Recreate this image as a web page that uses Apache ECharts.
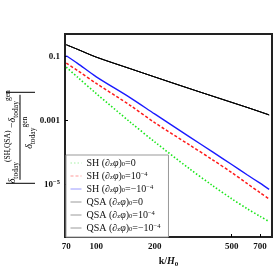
<!DOCTYPE html>
<html><head><meta charset="utf-8">
<script src="https://cdn.jsdelivr.net/npm/echarts@6/dist/echarts.min.js"></script>
<style>html,body{margin:0;padding:0;background:#fff}#c{width:273px;height:273px}</style>
</head><body><div id="c"></div>
<script>
// k/H0 sample points
const kValues = [70, 80, 100, 150, 200, 300, 400, 500, 600, 700, 780];
// SH (dz phi)0 = 0  (green dotted)
const sh0 = [0.0468, 0.0228, 0.00697, 8.81e-4, 2.15e-4, 3.21e-5, 9.0e-6, 3.54e-6, 1.74e-6, 1.0e-6, 6.84e-7];
// SH (dz phi)0 = 1e-4  (red dashed)
const shPlus = [0.0626, 0.0368, 0.0145, 0.00295, 8.6e-4, 1.78e-4, 5.8e-5, 2.34e-5, 1.07e-5, 5.5e-6, 3.47e-6];
// SH (dz phi)0 = -1e-4  (blue)
const shMinus = [0.107, 0.0618, 0.0234, 0.00514, 0.00161, 3.2e-4, 1.02e-4, 4.19e-5, 2.0e-5, 1.09e-5, 7.0e-6];
// QSA curves (all overlap, black)
const qsa0 = [0.236, 0.170, 0.0966, 0.0419, 0.0232, 0.0102, 0.00576, 0.0037, 0.00258, 0.00188, 0.0015];
const qsaPlus = [0.236, 0.170, 0.0966, 0.0419, 0.0232, 0.0102, 0.00576, 0.0037, 0.00258, 0.00188, 0.0015];
const qsaMinus = [0.236, 0.170, 0.0966, 0.0419, 0.0232, 0.0102, 0.00576, 0.0037, 0.00258, 0.00188, 0.0015];

const xTicks = [70, 100, 200, 500, 700];
const yTicks = [0.1, 0.001, 1e-5];

const seriesNames = [
  'SH (∂zφ)0=0', 'SH (∂zφ)0=10^-4', 'SH (∂zφ)0=−10^-4',
  'QSA (∂zφ)0=0', 'QSA (∂zφ)0=10^-4', 'QSA (∂zφ)0=−10^-4'
];
const seriesData = [sh0, shPlus, shMinus, qsa0, qsaPlus, qsaMinus];

const FONT = 'Liberation Serif';

function pairs(arr) { return kValues.map((k, i) => [k, arr[i]]); }

function legendRich(name) {
  const prefix = name.split(' ')[0];
  const val = name.split('=')[1];
  let v;
  if (val === '0') v = '{t|=0}';
  else if (val.startsWith('−')) v = '{t|=−10}{p|−4}';
  else v = '{t|=10}{p|−4}';
  return '{t|' + prefix + ' (}{i|∂}{s|z}{i|φ}{t|)}{s|0}' + v;
}

const styles = [
  { color: '#19e619', type: [1.5, 2], width: 1.6 },
  { color: '#ff1a1a', type: [3, 2], width: 1.5 },
  { color: '#1a1aff', type: 'solid', width: 1.4 },
  { color: '#000000', type: 'solid', width: 0.9 },
  { color: '#000000', type: 'solid', width: 0.9 },
  { color: '#000000', type: 'solid', width: 0.9 }
];
const legendLine = [
  { color: '#a6f0a6', type: [1.5, 2], width: 1 },
  { color: '#ff9a9a', type: [3, 2], width: 1 },
  { color: '#9a9aff', type: 'solid', width: 1 },
  { color: '#9a9a9a', type: 'solid', width: 1 },
  { color: '#9a9a9a', type: 'solid', width: 1 },
  { color: '#9a9a9a', type: 'solid', width: 1 }
];

const chart = echarts.init(document.getElementById('c'), null, { renderer: 'canvas' });

const mainRich = {
  m: { fontFamily: FONT, fontSize: 10, color: '#000', lineHeight: 16 },
  mi: { fontFamily: FONT, fontSize: 10, color: '#000', fontStyle: 'italic', lineHeight: 16 },
  sb: { fontFamily: FONT, fontSize: 7.5, color: '#000', verticalAlign: 'bottom' },
  sp: { fontFamily: FONT, fontSize: 7.5, color: '#000', verticalAlign: 'top' }
};

chart.setOption({
  animation: false,
  backgroundColor: '#fff',
  grid: { left: 65, top: 34, width: 207, height: 206, show: true, borderColor: '#222', borderWidth: 2, backgroundColor: 'transparent' },
  xAxis: {
    type: 'log', logBase: 10, min: 68.93, max: 807,
    axisLine: { show: false },
    splitLine: { show: false },
    minorTick: { show: false },
    axisTick: { show: true, inside: true, length: 3, lineStyle: { color: '#000', width: 1 }, customValues: xTicks },
    axisLabel: { customValues: xTicks, margin: 5, fontFamily: FONT, fontWeight: 'bold', fontSize: 9, color: '#111',
      formatter: v => String(Math.round(v)) },
    name: '{b|k/}{bi|H}{bs|0}',
    nameLocation: 'middle', nameGap: 18,
    nameTextStyle: {
      rich: {
        b: { fontFamily: FONT, fontWeight: 'bold', fontSize: 10, color: '#111', lineHeight: 13 },
        bi: { fontFamily: FONT, fontWeight: 'bold', fontStyle: 'italic', fontSize: 10, color: '#111', lineHeight: 13 },
        bs: { fontFamily: FONT, fontWeight: 'bold', fontSize: 7, color: '#111', verticalAlign: 'bottom' }
      }
    }
  },
  yAxis: {
    type: 'log', logBase: 10, min: 2.25e-7, max: 0.513,
    axisLine: { show: false },
    splitLine: { show: false },
    axisTick: { show: true, inside: true, length: 3, lineStyle: { color: '#000', width: 1 }, customValues: yTicks },
    axisLabel: { customValues: yTicks, margin: 5, fontFamily: FONT, fontWeight: 'bold', fontSize: 9, color: '#111',
      formatter: v => {
        const e = Math.round(Math.log10(v));
        if (e === -1) return '{n|0.1}';
        if (e === -3) return '{n|0.001}';
        return '{n|10}{p|−' + (-e) + '}';
      },
      rich: {
        n: { fontFamily: FONT, fontWeight: 'bold', fontSize: 9, color: '#111', lineHeight: 12 },
        p: { fontFamily: FONT, fontWeight: 'bold', fontSize: 6.5, color: '#111', verticalAlign: 'top' }
      }
    }
  },
  legend: {
    orient: 'vertical', left: 66, top: 155,
    padding: [3, 8, 4, 4],
    itemWidth: 11, itemHeight: 10, itemGap: 3,
    backgroundColor: '#fff', borderColor: '#999', borderWidth: 1,
    data: seriesNames.map((n, i) => ({ name: n, lineStyle: legendLine[i], itemStyle: { opacity: 0 } })),
    formatter: legendRich,
    textStyle: {
      rich: {
        t: { fontFamily: FONT, fontSize: 10, color: '#111', lineHeight: 10 },
        i: { fontFamily: FONT, fontSize: 10, color: '#111', fontStyle: 'italic', lineHeight: 10 },
        s: { fontFamily: FONT, fontSize: 6.5, color: '#111', verticalAlign: 'bottom' },
        p: { fontFamily: FONT, fontSize: 6.5, color: '#111', verticalAlign: 'top' }
      }
    }
  },
  series: seriesNames.map((n, i) => ({
    name: n, type: 'line', data: pairs(seriesData[i]), smooth: 0.3,
    symbol: 'none', showSymbol: false, z: 10 - i,
    lineStyle: styles[i], itemStyle: { color: styles[i].color }
  })),
  graphic: [{
    type: 'group', x: 20, y: 137.8, rotation: Math.PI / 2,
    children: [
      { type: 'line', shape: { x1: -42, y1: 0, x2: 43, y2: 0 }, style: { stroke: '#000', lineWidth: 1 } },
      { type: 'line', shape: { x1: -45.5, y1: -14, x2: -45.5, y2: 15 }, style: { stroke: '#000', lineWidth: 1 } },
      { type: 'line', shape: { x1: 45.5, y1: -14, x2: 45.5, y2: 15 }, style: { stroke: '#000', lineWidth: 1 } },
      { type: 'text', x: 1, y: -8, style: {
        text: '{mi|δ}{sb|today}{sp|(SH,QSA)}{m| −}{mi|δ}{sb|today}{sp|gen}',
        rich: mainRich, align: 'center', verticalAlign: 'middle' } },
      { type: 'text', x: 5, y: 9, style: {
        text: '{mi|δ}{sb|today}{sp|gen}',
        rich: mainRich, align: 'center', verticalAlign: 'middle' } }
    ]
  }]
});
</script></body></html>
